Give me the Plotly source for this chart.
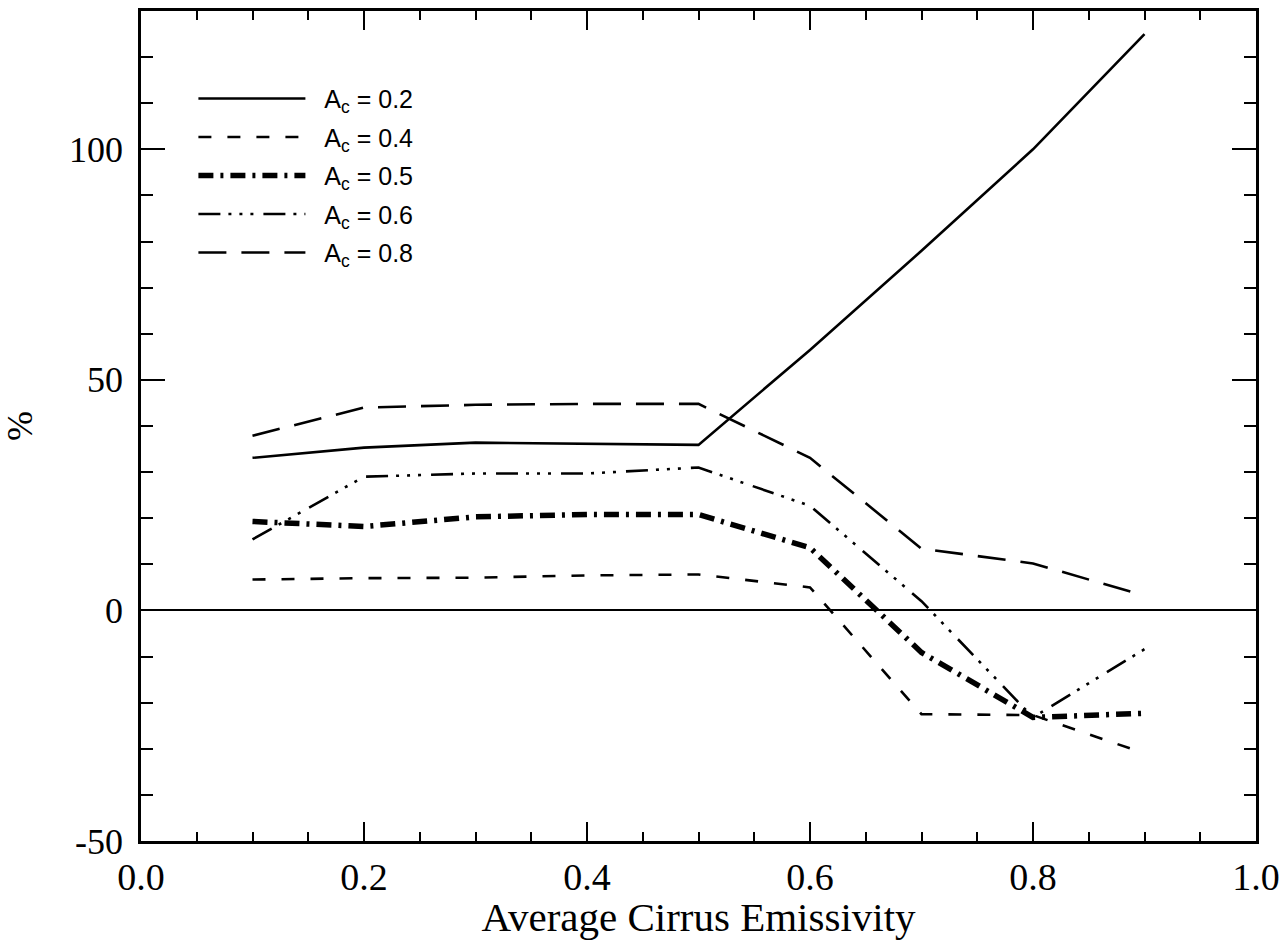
import plotly.graph_objects as go

emissivity = [0.1, 0.2, 0.3, 0.4, 0.5, 0.6, 0.7, 0.8, 0.9]
series_names = ["A<sub>c</sub> = 0.2", "A<sub>c</sub> = 0.4", "A<sub>c</sub> = 0.5",
                "A<sub>c</sub> = 0.6", "A<sub>c</sub> = 0.8"]
ac_02 = [33.1, 35.3, 36.4, 36.1, 35.9, 56.5, 78.0, 100.0, 125.0]
ac_04 = [6.7, 7.0, 7.1, 7.6, 7.8, 5.0, -22.5, -22.7, -31.0]
ac_05 = [19.3, 18.2, 20.3, 20.8, 20.8, 13.6, -9.1, -23.2, -22.3]
ac_06 = [15.4, 29.0, 29.7, 29.7, 31.0, 22.7, 2.0, -23.2, -8.4]
ac_08 = [37.9, 44.0, 44.6, 44.8, 44.8, 33.1, 13.4, 10.2, 3.2]
x_tick_vals = [0.0, 0.2, 0.4, 0.6, 0.8, 1.0]
x_tick_text = ["0.0", "0.2", "0.4", "0.6", "0.8", "1.0"]
y_tick_vals = [-50, 0, 50, 100]
y_tick_text = ["-50", "0", "50", "100"]

FONT = "Liberation Serif, Times New Roman, serif"
LEGEND_FONT = "Liberation Sans, Arial, sans-serif"
NBSP = "\u00a0"

styles = [
    dict(width=2.6, dash="solid"),
    dict(width=2.6, dash="13px,16px"),
    dict(width=5.5, dash="15px,7px,3px,7px"),
    dict(width=2.6, dash="22px,8px,3px,8px,3px,8px,3px,10px"),
    dict(width=2.6, dash="28px,15px"),
]
values = [ac_02, ac_04, ac_05, ac_06, ac_08]

fig = go.Figure()
for i, (name, vals, st) in enumerate(zip(series_names, values, styles)):
    fig.add_trace(go.Scatter(
        x=emissivity, y=vals, mode="lines", name=NBSP * 2 + name,
        legendgroup=f"g{i}",
        line=dict(color="black", width=st["width"], dash=st["dash"]),
    ))

axis_common = dict(
    showline=True, linecolor="black", linewidth=2.8, mirror="ticks",
    ticks="inside", tickcolor="black", tickwidth=2.2,
    showgrid=False,
)

fig.update_xaxes(
    range=[0, 1], tickvals=x_tick_vals, ticktext=x_tick_text, ticklen=19,
    zeroline=False,
    tickfont=dict(family=FONT, size=38, color="black"),
    minor=dict(ticks="inside", dtick=0.05, ticklen=9, tickcolor="black", tickwidth=2.2, showgrid=False),
    title=dict(text="Average Cirrus Emissivity", font=dict(family=FONT, size=41, color="black"), standoff=0),
    **axis_common,
)
fig.update_yaxes(
    range=[-50, 130], tickvals=y_tick_vals, ticktext=y_tick_text, ticklen=24,
    ticklabelstandoff=8,
    zeroline=True, zerolinecolor="black", zerolinewidth=2,
    tickfont=dict(family=FONT, size=36, color="black"),
    minor=dict(ticks="inside", dtick=10, ticklen=12, tickcolor="black", tickwidth=2.2, showgrid=False),
    title=dict(text="%", font=dict(family=FONT, size=36, color="black"), standoff=36),
    **axis_common,
)

fig.update_layout(
    width=1288, height=940,
    margin=dict(l=135, r=28, t=8, b=99),
    paper_bgcolor="white", plot_bgcolor="white",
    showlegend=True,
    legend=dict(
        x=0.047, y=0.922, xanchor="left", yanchor="top",
        bgcolor="rgba(0,0,0,0)", borderwidth=0,
        font=dict(family=LEGEND_FONT, size=25, color="black"),
        itemwidth=107, traceorder="grouped", tracegroupgap=3,
    ),
)

fig.write_html(
    "out.html",
    config={"displayModeBar": False},
    post_script="document.body.style.margin='0px'; document.body.style.overflow='hidden';",
)
